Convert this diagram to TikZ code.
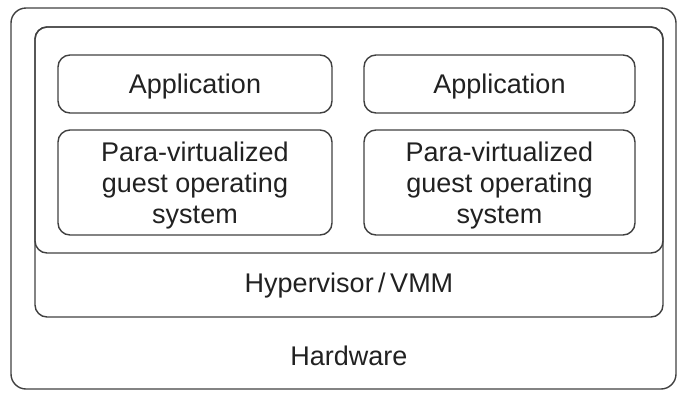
\documentclass[tikz,border=0pt]{standalone}
\usepackage{fontspec}
\setmainfont{Liberation Sans}
\definecolor{linec}{gray}{0.25}
\definecolor{textc}{gray}{0.13}
\tikzset{
  frame/.style={draw=linec, line width=1.4pt, rounded corners=12pt, inner sep=0pt},
  lbl/.style={text=textc, font=\fontsize{27}{31}\selectfont, align=center, inner sep=0pt}
}
\begin{document}
\begin{tikzpicture}[x=1pt,y=-1pt]
\useasboundingbox (0,0) rectangle (678,392);
\node[frame, rounded corners=15pt, minimum width=665pt, minimum height=381pt] (hw) at (343.5,198.5) {};
\node[frame, minimum width=628pt, minimum height=290pt] (hyp) at (349,172) {};
\node[frame, minimum width=628pt, minimum height=226pt] (vm) at (349,140) {};
\node[frame, minimum width=274pt, minimum height=58pt] (app1) at (195,84) {};
\node[frame, minimum width=271pt, minimum height=58pt] (app2) at (499.5,84) {};
\node[frame, minimum width=274pt, minimum height=105pt] (os1) at (195,182.5) {};
\node[frame, minimum width=271pt, minimum height=105pt] (os2) at (499.5,182.5) {};
\node[lbl] (t1) at (195,86.5) {Application};
\node[lbl] (t2) at (499.5,86.5) {Application};
\node[lbl] (t3) at (195,186) {Para-virtualized\\guest operating\\system};
\node[lbl] (t4) at (499.5,186) {Para-virtualized\\guest operating\\system};
\node[lbl] (t5) at (349,286) {Hypervisor\,/\,VMM};
\node[lbl] (t6) at (349,356) {Hardware};
\end{tikzpicture}
\end{document}
